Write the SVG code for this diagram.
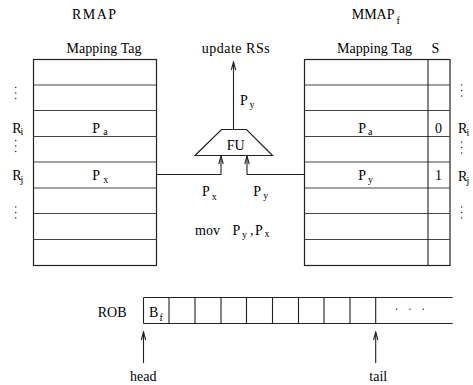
<svg xmlns="http://www.w3.org/2000/svg" width="473" height="385" viewBox="0 0 473 385">
  <style>
    text { font-family: "Liberation Serif", "Times New Roman", serif; font-size: 14px; fill: #000; }
    .sub { font-size: 10px; }
    .box { fill: #fff; stroke: #222; stroke-width: 1.2; }
    .row { stroke: #444; stroke-width: 1.2; }
    .wire { fill: none; stroke: #222; stroke-width: 1.1; }
    .dot { fill: #333; }
  </style>
  <defs>
    <marker id="arrow" markerUnits="userSpaceOnUse" markerWidth="10" markerHeight="6" refX="9" refY="3" orient="auto">
      <path d="M1,0.8 L9,3 L1,5.2" fill="none" stroke="#222" stroke-width="1.1"/>
    </marker>
    <g id="vdots">
      <circle cx="0" cy="0" r="0.8" class="dot"/>
      <circle cx="0" cy="5.5" r="0.8" class="dot"/>
      <circle cx="0" cy="11" r="0.8" class="dot"/>
    </g>
  </defs>
  <rect width="473" height="385" fill="#fff"/>

  <!-- RMAP table -->
  <g id="rmap">
    <text x="72" y="19" textLength="44" lengthAdjust="spacing">RMAP</text>
    <text x="66.5" y="53" textLength="75" lengthAdjust="spacing">Mapping Tag</text>
    <rect class="box" x="33.5" y="59.5" width="123" height="206"/>
    <path class="row" d="M33.5,85H156.5M33.5,110.5H156.5M33.5,136.5H156.5M33.5,162H156.5M33.5,188H156.5M33.5,213.5H156.5M33.5,239.5H156.5"/>
    <text x="92.3" y="132.5">P<tspan class="sub" x="103.3" dy="2.5">a</tspan></text>
    <text x="92.3" y="180">P<tspan class="sub" x="103.3" dy="3">x</tspan></text>
  </g>

  <!-- register names, left side -->
  <g id="rmap-regs">
    <use href="#vdots" x="15.7" y="87.5"/>
    <text x="12.3" y="132.5">R<tspan class="sub" x="20.5" dy="2.5">i</tspan></text>
    <use href="#vdots" x="15.7" y="140.5"/>
    <text x="12.3" y="180">R<tspan class="sub" x="20.5" dy="2.5">j</tspan></text>
    <use href="#vdots" x="15.7" y="207"/>
  </g>

  <!-- MMAP table -->
  <g id="mmap">
    <text x="351.7" y="19">MMAP<tspan class="sub" dx="2" dy="5">f</tspan></text>
    <text x="337" y="53" textLength="75" lengthAdjust="spacing">Mapping Tag</text>
    <text x="431.5" y="53">S</text>
    <rect class="box" x="304.5" y="59.5" width="145.5" height="206"/>
    <path class="row" d="M304.5,85H450M304.5,110.5H450M304.5,136.5H450M304.5,162H450M304.5,188H450M304.5,213.5H450M304.5,239.5H450"/>
    <path class="wire" d="M428,59.5V265.5"/>
    <text x="358.3" y="132.5">P<tspan class="sub" x="368" dy="2.5">a</tspan></text>
    <text x="435" y="132.5">0</text>
    <text x="358.3" y="180">P<tspan class="sub" x="368" dy="2.5">y</tspan></text>
    <text x="435" y="180">1</text>
  </g>

  <!-- register names, right side -->
  <g id="mmap-regs">
    <use href="#vdots" x="461.7" y="85"/>
    <text x="458" y="133">R<tspan class="sub" x="466.5" dy="2.5">i</tspan></text>
    <use href="#vdots" x="461.7" y="142"/>
    <text x="458" y="181">R<tspan class="sub" x="466.5" dy="2.5">j</tspan></text>
    <use href="#vdots" x="461.7" y="207"/>
  </g>

  <!-- functional unit -->
  <g id="fu">
    <polygon class="box" points="221.5,129.5 246.5,129.5 272.5,155.5 195,155.5"/>
    <text x="226.7" y="150">FU</text>
    <text x="201.7" y="53.3" textLength="68" lengthAdjust="spacing">update RSs</text>
    <text x="240" y="105">P<tspan class="sub" x="249.5" dy="3">y</tspan></text>
    <text x="202" y="195.5">P<tspan class="sub" x="211.7" dy="4">x</tspan></text>
    <text x="253.3" y="195.5">P<tspan class="sub" x="263.3" dy="3.5">y</tspan></text>
    <text x="195" y="235">mov<tspan x="232.5">P</tspan><tspan class="sub" x="242" dy="3">y</tspan><tspan x="250" dy="-3">,</tspan><tspan x="255">P</tspan><tspan class="sub" x="264.5" dy="2">x</tspan></text>
  </g>

  <!-- reorder buffer -->
  <g id="rob">
    <text x="97.7" y="316.7">ROB</text>
    <path class="wire" d="M143.5,297.5H452.7M143.5,323.5H452.7M143.5,297.5V323.5M169,297.5V323.5M195,297.5V323.5M221,297.5V323.5M246.5,297.5V323.5M272.5,297.5V323.5M298.5,297.5V323.5M324,297.5V323.5M350,297.5V323.5M375.7,297.5V323.5"/>
    <text x="149" y="316.7">B<tspan class="sub" x="159.5" dy="4">f</tspan></text>
    <circle class="dot" cx="396.7" cy="309.3" r="0.8"/>
    <circle class="dot" cx="410" cy="309.3" r="0.8"/>
    <circle class="dot" cx="423.3" cy="309.3" r="0.8"/>
    <text x="130" y="381">head</text>
    <text x="369.3" y="381">tail</text>
  </g>

  <!-- connectors -->
  <g id="connectors">
    <path class="wire" d="M233.5,129.5V62" marker-end="url(#arrow)"/>
    <path class="wire" d="M156.5,174.5H221V156" marker-end="url(#arrow)"/>
    <path class="wire" d="M304.5,174.5H247V156" marker-end="url(#arrow)"/>
    <path class="wire" d="M143.5,363V332" marker-end="url(#arrow)"/>
    <path class="wire" d="M375.7,363V332" marker-end="url(#arrow)"/>
  </g>
</svg>
